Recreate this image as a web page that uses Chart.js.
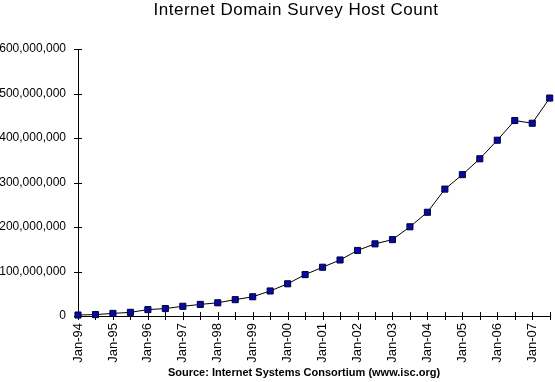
<!DOCTYPE html>
<html>
<head>
<meta charset="utf-8">
<script src="https://cdn.jsdelivr.net/npm/chart.js@4/dist/chart.umd.min.js"></script>
<style>
  html, body { margin: 0; padding: 0; background: #fff; }
  #wrap { position: relative; width: 555px; height: 382px; overflow: hidden; }
  #hostChart { position: absolute; left: 0; top: 0; }
  .label { position: absolute; color: #000; font-family: "Liberation Sans", Arial, sans-serif; white-space: nowrap; transform: translateX(-50%); }
  #title { left: 296px; top: 0px; font-size: 17px; letter-spacing: 0.5px; }
  #source { left: 304px; top: 366px; font-size: 11px; font-weight: bold; }
</style>
</head>
<body>
<div id="wrap">
  <canvas id="hostChart" width="555" height="382"></canvas>
  <div id="title" class="label">Internet Domain Survey Host Count</div>
  <div id="source" class="label">Source: Internet Systems Consortium (www.isc.org)</div>
</div>
<script>
/*************************************************
 * DATA
 *************************************************/

// survey dates, one every six months
const surveyDates = [
  "Jan-94", "Jul-94", "Jan-95", "Jul-95", "Jan-96", "Jul-96", "Jan-97",
  "Jul-97", "Jan-98", "Jul-98", "Jan-99", "Jul-99", "Jan-00", "Jul-00",
  "Jan-01", "Jul-01", "Jan-02", "Jul-02", "Jan-03", "Jul-03", "Jan-04",
  "Jul-04", "Jan-05", "Jul-05", "Jan-06", "Jul-06", "Jan-07", "Jul-07"
];

// host counts
const hostCounts = [
  2217000, 3212000, 5846000, 8200000, 14352000, 16729000, 21819000,
  26053000, 29670000, 36739000, 43230000, 56218000, 72398092, 93047785,
  109574429, 125888197, 147344723, 162128493, 171638297, 200500000, 233101481,
  285139107, 317646084, 353284187, 394991609, 439286364, 433193199, 489774269
];

// y axis range
const yTicks = [0, 100000000, 200000000, 300000000, 400000000, 500000000, 600000000];


/*************************************************
 * CROSS TICK MARKS (ticks go through the axis)
 *************************************************/
const crossTicks = {
  id: "crossTicks",
  beforeDatasetsDraw(chart) {
    const ctx = chart.ctx;
    const x = chart.scales.x;
    const y = chart.scales.y;
    ctx.save();
    ctx.strokeStyle = "#000";
    ctx.lineWidth = 1;
    ctx.beginPath();
    y.ticks.forEach((t, i) => {
      const py = Math.round(y.getPixelForTick(i)) + 0.5;
      ctx.moveTo(x.left - 4, py);
      ctx.lineTo(x.left + 4, py);
    });
    x.ticks.forEach((t, i) => {
      const px = Math.round(x.getPixelForTick(i)) + 0.5;
      ctx.moveTo(px, y.bottom - 4);
      ctx.lineTo(px, y.bottom + 4);
    });
    ctx.stroke();
    ctx.restore();
  }
};


/*************************************************
 * CHART
 *************************************************/
const ctx = document.getElementById("hostChart").getContext("2d");

new Chart(ctx, {
  type: "line",
  data: {
    labels: surveyDates,
    datasets: [{
      data: hostCounts,
      borderColor: "#000",
      borderWidth: 1,
      tension: 0,
      pointStyle: "rect",
      pointRadius: 4.3,
      pointBackgroundColor: "#0808a8",
      pointBorderColor: "#000033",
      pointBorderWidth: 1,
      clip: false
    }]
  },
  options: {
    responsive: false,
    animation: false,
    layout: { padding: { left: 0, right: 2, top: 49, bottom: 16 } },
    plugins: {
      legend: { display: false },
      tooltip: { enabled: false }
    },
    scales: {
      x: {
        type: "category",
        offset: false,
        grid: { display: false, drawTicks: false },
        border: { display: true, color: "#000", width: 1 },
        ticks: {
          autoSkip: false,
          minRotation: 90,
          maxRotation: 90,
          padding: 7,
          color: "#000",
          font: { family: "Liberation Sans", size: 13 },
          callback: (v, i) => (i % 2 === 0 ? surveyDates[i] : "")
        },
        afterFit: s => {
          s.height = 50;
          s.paddingLeft = 0;
          s.paddingRight = 0;
        }
      },
      y: {
        min: yTicks[0],
        max: yTicks[yTicks.length - 1],
        grid: { display: false, drawTicks: false },
        border: { display: true, color: "#000", width: 1 },
        afterBuildTicks: s => { s.ticks = yTicks.map(v => ({ value: v })); },
        ticks: {
          padding: 12,
          color: "#000",
          font: { family: "Liberation Sans", size: 12 },
          callback: v => v.toLocaleString("en-US")
        },
        afterFit: s => { s.width = 78; }
      }
    }
  },
  plugins: [crossTicks]
});
</script>
</body>
</html>
